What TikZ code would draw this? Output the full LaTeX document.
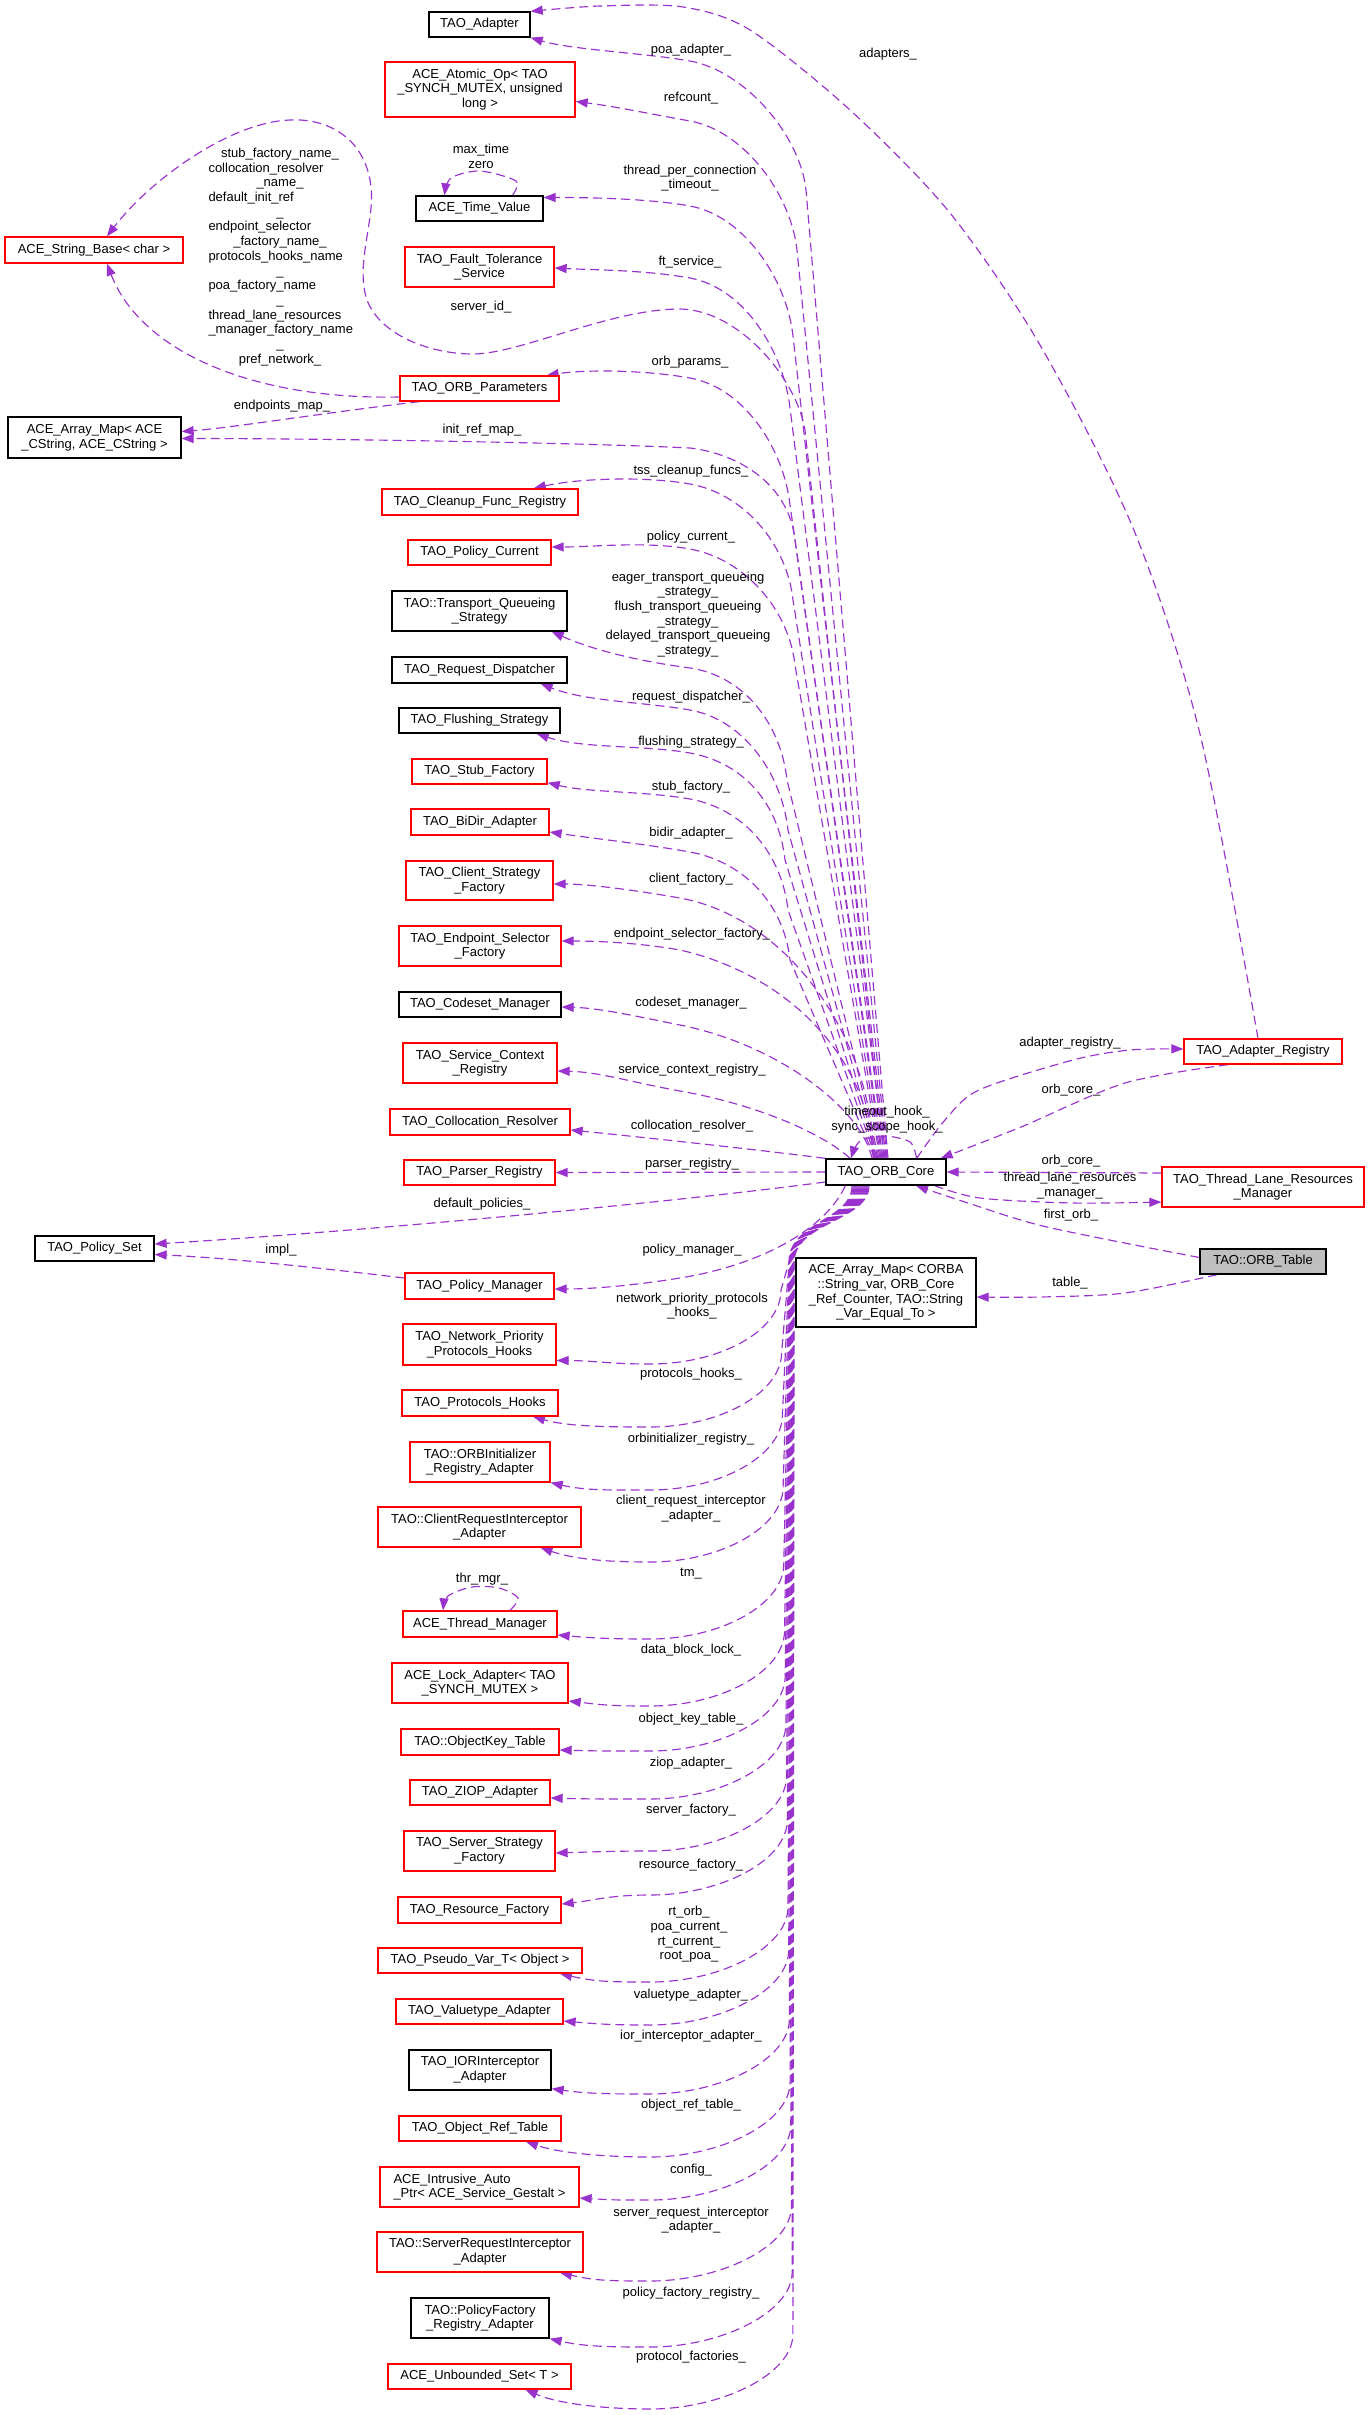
\documentclass[tikz,border=0pt]{standalone}
\usepackage{fontspec}
\setmainfont{Liberation Sans}
\usetikzlibrary{arrows.meta,calc}
\pgfdeclarelayer{bglayer}
\pgfdeclarelayer{edgelayer}
\pgfsetlayers{bglayer,edgelayer,main}
\definecolor{edgec}{HTML}{9A32CD}
\definecolor{boxred}{HTML}{FF0000}
\definecolor{grey75}{HTML}{BFBFBF}
\newcommand{\lft}[1]{\makebox[143pt][l]{#1}}
\begin{document}
\begin{tikzpicture}[x=1pt,y=-1pt,
  every node/.style={font=\fontsize{13}{14.7}\selectfont, inner sep=0pt},
  bbox/.style={draw=black, line width=1.3pt, align=center, fill=white},
  rbox/.style={draw=boxred, line width=1.3pt, align=center, fill=white},
  lbl/.style={align=center},
  conn/.style={draw=edgec, line width=1.15pt, dash pattern=on 9pt off 5pt, -{Triangle[length=12pt,width=9pt]}}
]
\begin{pgfonlayer}{bglayer}
\fill[white] (0,0) rectangle (1368,2415);
\end{pgfonlayer}
\useasboundingbox (0,0) rectangle (1368,2415);

% ---------- boxes ----------
\node[bbox,minimum width=101pt,minimum height=25pt] (adapter) at (479.5,24.5) {TAO\_Adapter};
\node[rbox,minimum width=190pt,minimum height=55pt] (atomic) at (480,89.5) {ACE\_Atomic\_Op< TAO\\\_SYNCH\_MUTEX, unsigned\\long >};
\node[bbox,minimum width=127pt,minimum height=25pt] (timev) at (479.5,208.5) {ACE\_Time\_Value};
\node[rbox,minimum width=149pt,minimum height=40pt] (ft) at (479.5,267) {TAO\_Fault\_Tolerance\\\_Service};
\node[rbox,minimum width=178pt,minimum height=26pt] (strbase) at (94,250) {ACE\_String\_Base< char >};
\node[rbox,minimum width=159pt,minimum height=25pt] (orbparams) at (479.5,388.5) {TAO\_ORB\_Parameters};
\node[bbox,minimum width=173pt,minimum height=41pt] (amap) at (94.5,437.5) {ACE\_Array\_Map< ACE\\\_CString, ACE\_CString >};
\node[rbox,minimum width=196pt,minimum height=26pt] (cleanup) at (480,502) {TAO\_Cleanup\_Func\_Registry};
\node[rbox,minimum width=143pt,minimum height=25pt] (polcur) at (479.5,552.5) {TAO\_Policy\_Current};
\node[bbox,minimum width=175pt,minimum height=40pt] (tqs) at (479.5,611) {TAO::Transport\_Queueing\\\_Strategy};
\node[bbox,minimum width=175pt,minimum height=26pt] (reqd) at (479.5,670) {TAO\_Request\_Dispatcher};
\node[bbox,minimum width=161pt,minimum height=25pt] (flush) at (479.5,720.5) {TAO\_Flushing\_Strategy};
\node[rbox,minimum width=135pt,minimum height=25pt] (stubf) at (479.5,771.5) {TAO\_Stub\_Factory};
\node[rbox,minimum width=138pt,minimum height=26pt] (bidir) at (480,822) {TAO\_BiDir\_Adapter};
\node[rbox,minimum width=147pt,minimum height=39pt] (csf) at (479.5,880.5) {TAO\_Client\_Strategy\\\_Factory};
\node[rbox,minimum width=162pt,minimum height=40pt] (esf) at (480,946) {TAO\_Endpoint\_Selector\\\_Factory};
\node[bbox,minimum width=162pt,minimum height=25pt] (codeset) at (480,1004.5) {TAO\_Codeset\_Manager};
\node[rbox,minimum width=154pt,minimum height=40pt] (scr) at (480,1063) {TAO\_Service\_Context\\\_Registry};
\node[rbox,minimum width=180pt,minimum height=26pt] (collres) at (480,1122) {TAO\_Collocation\_Resolver};
\node[rbox,minimum width=151pt,minimum height=25pt] (parser) at (479.5,1172.5) {TAO\_Parser\_Registry};
\node[bbox,minimum width=119pt,minimum height=25pt] (polset) at (94.5,1248.5) {TAO\_Policy\_Set};
\node[rbox,minimum width=149pt,minimum height=26pt] (polman) at (479.5,1286) {TAO\_Policy\_Manager};
\node[rbox,minimum width=153pt,minimum height=41pt] (nph) at (479.5,1344.5) {TAO\_Network\_Priority\\\_Protocols\_Hooks};
\node[rbox,minimum width=156pt,minimum height=26pt] (ph) at (480,1403) {TAO\_Protocols\_Hooks};
\node[rbox,minimum width=140pt,minimum height=40pt] (orbinit) at (480,1462) {TAO::ORBInitializer\\\_Registry\_Adapter};
\node[rbox,minimum width=203pt,minimum height=40pt] (cria) at (479.5,1527) {TAO::ClientRequestInterceptor\\\_Adapter};
\node[rbox,minimum width=154pt,minimum height=26pt] (thrmgr) at (480,1624) {ACE\_Thread\_Manager};
\node[rbox,minimum width=176pt,minimum height=40pt] (lock) at (480,1683) {ACE\_Lock\_Adapter< TAO\\\_SYNCH\_MUTEX >};
\node[rbox,minimum width=158pt,minimum height=26pt] (okt) at (480,1742) {TAO::ObjectKey\_Table};
\node[rbox,minimum width=140pt,minimum height=25pt] (ziop) at (480,1792.5) {TAO\_ZIOP\_Adapter};
\node[rbox,minimum width=151pt,minimum height=40pt] (ssf) at (479.5,1851) {TAO\_Server\_Strategy\\\_Factory};
\node[rbox,minimum width=163pt,minimum height=26pt] (resf) at (479.5,1910) {TAO\_Resource\_Factory};
\node[rbox,minimum width=204pt,minimum height=25pt] (pseudo) at (480,1960.5) {TAO\_Pseudo\_Var\_T< Object >};
\node[rbox,minimum width=167pt,minimum height=25pt] (vta) at (479.5,2011.5) {TAO\_Valuetype\_Adapter};
\node[bbox,minimum width=142pt,minimum height=40pt] (iora) at (480,2070) {TAO\_IORInterceptor\\\_Adapter};
\node[rbox,minimum width=162pt,minimum height=25pt] (ort) at (480,2128.5) {TAO\_Object\_Ref\_Table};
\node[rbox,minimum width=199pt,minimum height=40pt,align=left] (iap) at (479.5,2187) {ACE\_Intrusive\_Auto\\\_Ptr< ACE\_Service\_Gestalt >};
\node[rbox,minimum width=206pt,minimum height=40pt] (sria) at (480,2252) {TAO::ServerRequestInterceptor\\\_Adapter};
\node[bbox,minimum width=138pt,minimum height=40pt] (pfra) at (480,2318) {TAO::PolicyFactory\\\_Registry\_Adapter};
\node[rbox,minimum width=183pt,minimum height=25pt] (uset) at (479.5,2376.5) {ACE\_Unbounded\_Set< T >};
\node[bbox,minimum width=120pt,minimum height=26pt] (core) at (886,1172) {TAO\_ORB\_Core};
\node[rbox,minimum width=158pt,minimum height=25pt] (areg) at (1263,1051.5) {TAO\_Adapter\_Registry};
\node[rbox,minimum width=202pt,minimum height=40pt] (tlrm) at (1263,1187) {TAO\_Thread\_Lane\_Resources\\\_Manager};
\node[bbox,fill=grey75,minimum width=126pt,minimum height=25pt] (orbtable) at (1263,1261.5) {TAO::ORB\_Table};
\node[bbox,minimum width=180pt,minimum height=69pt] (cmap) at (886,1292.5) {ACE\_Array\_Map< CORBA\\::String\_var, ORB\_Core\\\_Ref\_Counter, TAO::String\\\_Var\_Equal\_To >};

% ---------- labels ----------
\node[lbl] (l_poa) at (691,50) {poa\_adapter\_};
\node[lbl] (l_adapters) at (888,54) {adapters\_};
\node[lbl] (l_refc) at (691,98) {refcount\_};
\node[lbl] (l_tpc) at (690,178) {thread\_per\_connection\\\_timeout\_};
\node[lbl] (l_tv) at (481,156) {max\_time\\zero};
\node[lbl] (l_ft) at (690,262) {ft\_service\_};
\node[lbl] (l_sid) at (481,307) {server\_id\_};
\node[lbl] (l_op) at (690,362) {orb\_params\_};
\node[lbl,text width=143pt] (l_names) at (280,257) {stub\_factory\_name\_\\\lft{collocation\_resolver}\\\_name\_\\\lft{default\_init\_ref}\\\_\\\lft{endpoint\_selector}\\\_factory\_name\_\\\lft{protocols\_hooks\_name}\\\_\\\lft{poa\_factory\_name}\\\_\\\lft{thread\_lane\_resources}\\\lft{\_manager\_factory\_name}\\\_\\pref\_network\_};
\node[lbl] (l_epm) at (282,406) {endpoints\_map\_};
\node[lbl] (l_irm) at (482,430) {init\_ref\_map\_};
\node[lbl] (l_tss) at (691,471) {tss\_cleanup\_funcs\_};
\node[lbl] (l_pc) at (691,537) {policy\_current\_};
\node[lbl] (l_tqs) at (688,614.5) {eager\_transport\_queueing\\\_strategy\_\\flush\_transport\_queueing\\\_strategy\_\\delayed\_transport\_queueing\\\_strategy\_};
\node[lbl] (l_rd) at (691,697) {request\_dispatcher\_};
\node[lbl] (l_fs) at (691,742) {flushing\_strategy\_};
\node[lbl] (l_sf) at (691,787) {stub\_factory\_};
\node[lbl] (l_ba) at (691,833) {bidir\_adapter\_};
\node[lbl] (l_cf) at (691,879) {client\_factory\_};
\node[lbl] (l_esf) at (692,934) {endpoint\_selector\_factory\_};
\node[lbl] (l_cm) at (691,1003) {codeset\_manager\_};
\node[lbl] (l_scr) at (692,1070) {service\_context\_registry\_};
\node[lbl] (l_cr) at (692,1126) {collocation\_resolver\_};
\node[lbl] (l_pr) at (692,1164) {parser\_registry\_};
\node[lbl] (l_hook) at (887,1119.5) {timeout\_hook\_\\sync\_scope\_hook\_};
\node[lbl] (l_ar) at (1070,1043) {adapter\_registry\_};
\node[lbl] (l_oc1) at (1071,1090) {orb\_core\_};
\node[lbl] (l_oc2) at (1071,1161) {orb\_core\_};
\node[lbl] (l_tlrm) at (1070,1185.5) {thread\_lane\_resources\\\_manager\_};
\node[lbl] (l_fo) at (1071,1215) {first\_orb\_};
\node[lbl] (l_tab) at (1070,1283) {table\_};
\node[lbl] (l_dp) at (482,1204) {default\_policies\_};
\node[lbl] (l_impl) at (281,1250) {impl\_};
\node[lbl] (l_pm) at (692,1250) {policy\_manager\_};
\node[lbl] (l_nph) at (692,1306) {network\_priority\_protocols\\\_hooks\_};
\node[lbl] (l_ph) at (691,1374) {protocols\_hooks\_};
\node[lbl] (l_oir) at (691,1439) {orbinitializer\_registry\_};
\node[lbl] (l_cria) at (691,1508.5) {client\_request\_interceptor\\\_adapter\_};
\node[lbl] (l_tm) at (691,1574) {tm\_};
\node[lbl] (l_thr) at (482,1579) {thr\_mgr\_};
\node[lbl] (l_dbl) at (691,1650) {data\_block\_lock\_};
\node[lbl] (l_okt) at (691,1719) {object\_key\_table\_};
\node[lbl] (l_ziop) at (691,1763) {ziop\_adapter\_};
\node[lbl] (l_sfac) at (691,1810) {server\_factory\_};
\node[lbl] (l_rf) at (691,1865) {resource\_factory\_};
\node[lbl] (l_rt) at (689,1934.5) {rt\_orb\_\\poa\_current\_\\rt\_current\_\\root\_poa\_};
\node[lbl] (l_vta) at (691,1995) {valuetype\_adapter\_};
\node[lbl] (l_iora) at (691,2036) {ior\_interceptor\_adapter\_};
\node[lbl] (l_ort) at (691,2105) {object\_ref\_table\_};
\node[lbl] (l_cfg) at (691,2170) {config\_};
\node[lbl] (l_sria) at (691,2220) {server\_request\_interceptor\\\_adapter\_};
\node[lbl] (l_pfr) at (691,2293) {policy\_factory\_registry\_};
\node[lbl] (l_pf) at (691,2357) {protocol\_factories\_};

% ---------- connectors ----------
\begin{pgfonlayer}{edgelayer}
% upper fan from TAO_ORB_Core
\draw[conn] ($(core.north)+(2,0)$) -- (806,190) .. controls +(-6,-55) and +(55,10) .. (690,61) .. controls +(-45,-8) and +(40,12) .. (adapter.south east);
\draw[conn] ($(core.north)+(1,0)$) -- (797,250) .. controls +(-6,-55) and +(55,10) .. (690,121) .. controls +(-45,-8) and +(40,5) .. ($(atomic.east)+(0,12)$);
\draw[conn] ($(core.north)+(0,0)$) -- (793,336) .. controls +(-6,-55) and +(55,10) .. (690,206) .. controls +(-45,-8) and +(40,0) .. ($(timev.east)+(0,-11)$);
\draw[conn] ($(core.north)+(-1,0)$) -- (790,408) .. controls +(-6,-55) and +(55,10) .. (690,278) .. controls +(-45,-8) and +(40,2) .. ($(ft.east)+(0,1)$);
\draw[conn] ($(core.north)+(-2,0)$) -- (805,430) .. controls (797,380) and (740,310) .. (680,309) .. controls (610,309) and (520,354) .. (473,354) .. controls (430,354) and (380,335) .. (367,300) .. controls (355,265) and (375,220) .. (371,187) .. controls (366,140) and (330,118) .. (290,120) .. controls (230,122) and (150,180) .. ($(strbase.north)+(13,0)$);
\draw[conn] ($(core.north)+(-3,0)$) -- (790,505) .. controls +(-6,-55) and +(55,10) .. (690,378) .. controls +(-45,-8) and +(40,-6) .. ($(orbparams.north east)+(-13,0)$);
\draw[conn] ($(core.north)+(-4,0)$) -- (795,540) .. controls +(-6,-55) and +(50,6) .. (690,448) .. controls +(-100,-5) and +(150,0) .. ($(amap.east)+(0,1)$);
\draw[conn] ($(core.north)+(-5,0)$) -- (793,600) .. controls +(-6,-55) and +(55,10) .. (690,484) .. controls +(-45,-8) and +(45,-10) .. ($(cleanup.north east)+(-45,0)$);
\draw[conn] ($(core.north)+(-6,0)$) -- (795,665) .. controls +(-6,-55) and +(55,10) .. (690,549) .. controls +(-45,-8) and +(40,0) .. ($(polcur.east)+(0,-5.5)$);
\draw[conn] ($(core.north)+(-7,0)$) -- (787,780) .. controls +(-6,-55) and +(55,8) .. (690,668) .. controls +(-45,-6) and +(45,20) .. ($(tqs.south east)+(-16,0)$);
\draw[conn] ($(core.north)+(-8,0)$) -- (788,830) .. controls +(-6,-55) and +(55,10) .. (690,710) .. controls +(-45,-8) and +(45,18) .. ($(reqd.south east)+(-27,0)$);
\draw[conn] ($(core.north)+(-9,0)$) -- (785,860) .. controls +(-6,-55) and +(55,10) .. (690,753) .. controls +(-45,-8) and +(45,15) .. ($(flush.south east)+(-24,0)$);
\draw[conn] ($(core.north)+(-10,0)$) -- (788,910) .. controls +(-6,-55) and +(55,10) .. (690,799) .. controls +(-45,-8) and +(40,10) .. ($(stubf.south east)+(0,-2)$);
\draw[conn] ($(core.north)+(-11,0)$) -- (790,960) .. controls +(-6,-55) and +(55,10) .. (690,852) .. controls +(-45,-8) and +(40,6) .. ($(bidir.east)+(0,10)$);
\draw[conn] ($(core.north)+(-12,0)$) .. controls (872,1040) and (790,918) .. (680,898) .. controls (640,891) and (590,884) .. ($(csf.east)+(0,3.5)$);
\draw[conn] ($(core.north)+(-13,0)$) .. controls (870,1060) and (790,975) .. (680,950) .. controls (640,943) and (600,941) .. ($(esf.east)+(0,-5)$);
\draw[conn] ($(core.north)+(-14,0)$) .. controls (862,1110) and (780,1045) .. (680,1025) .. controls (640,1017) and (600,1008) .. ($(codeset.east)+(0,2.5)$);
\draw[conn] ($(core.north)+(-36,0)$) .. controls (825,1135) and (760,1105) .. (680,1091) .. controls (630,1082) and (600,1072) .. ($(scr.east)+(0,8)$);
\draw[conn] (core.north west) .. controls (760,1150) and (650,1138) .. ($(collres.east)+(0,8)$);
\draw[conn] (core.west) -- (parser.east);
\draw[conn] ($(core.west)+(0,10)$) .. controls (650,1205) and (350,1232) .. ($(polset.east)+(0,-4.5)$);
\draw[conn] ($(polman.west)+(0,-8)$) .. controls (320,1268) and (230,1258) .. ($(polset.east)+(0,6)$);
\draw[conn] ($(core.south west)+(20,0)$) .. controls (825,1230) and (760,1265) .. (680,1278) .. controls (630,1286) and (590,1289) .. ($(polman.east)+(0,3)$);
% ORB_Parameters
\draw[conn] ($(orbparams.west)+(0,8.5)$) .. controls (250,400) and (140,350) .. ($(strbase.south)+(13,0)$);
\draw[conn] ($(orbparams.south west)+(20,0)$) .. controls (330,412) and (230,428) .. ($(amap.east)+(0,-6)$);
% self loops
\draw[conn] plot[smooth] coordinates {($(core.north east)+(-30,0)$) (910,1142) (885,1136) (860,1141) ($(core.north)+(-35,0)$)};
\draw[conn] plot[smooth] coordinates {($(timev.north)+(33,0)$) (516,181) (480,171) (451,178) ($(timev.north)+(-35,0)$)};
\draw[conn] plot[smooth] coordinates {($(thrmgr.north)+(30,0)$) (518,1598) (499,1588) (472,1587) (448,1596) ($(thrmgr.north)+(-37,0)$)};
% right side
\draw[conn] plot[smooth] coordinates {($(core.north east)+(-30,0)$) (945,1120) (979,1090) (1073,1060) (1130,1050) ($(areg.west)+(0,-2.5)$)};
\draw[conn] plot[smooth] coordinates {($(areg.south)+(-35,0)$) (1125,1083) (1021,1127) ($(core.north east)+(-6,0)$)};
\draw[conn] plot[smooth] coordinates {($(areg.north)+(-5,0)$) (1200,734) (1133,528) (1040,345) (950,213) (850,110) (750,30) (683,7) (600,6) (adapter.north east)};
\draw[conn] ($(tlrm.west)+(0,-14)$) -- (core.east);
\draw[conn] plot[smooth] coordinates {($(core.south east)+(-12,0)$) (980,1198) (1073,1203) ($(tlrm.west)+(0,15)$)};
\draw[conn] plot[smooth] coordinates {($(orbtable.west)+(0,-4)$) (1047,1227) (968,1203) ($(core.south)+(30,0)$)};
\draw[conn] plot[smooth] coordinates {($(orbtable.south)+(-46,0)$) (1125,1293) (1040,1297) ($(cmap.east)+(0,4.5)$)};
% lower bundle
\draw[conn] ($(core.south)+(-34,0)$) .. controls +(0,35) and +(0,-40) .. (789,1262) -- (781,1290) .. controls +(0,41) and +(70,0) .. (650,1364) .. controls +(-40,0) and +(35,0) .. ($(nph.east)+(0,16)$);
\draw[conn] ($(core.south)+(-33,0)$) .. controls +(0,35) and +(0,-40) .. (789.3,1262) -- (781.7,1352) .. controls +(0,41) and +(70,0) .. (650,1427) .. controls +(-40,0) and +(35,10) .. ($(ph.south)+(53,0)$);
\draw[conn] ($(core.south)+(-32,0)$) .. controls +(0,35) and +(0,-40) .. (789.6,1262) -- (782.4,1415) .. controls +(0,41) and +(70,0) .. (650,1490) .. controls +(-40,0) and +(35,8) .. (orbinit.south east);
\draw[conn] ($(core.south)+(-31,0)$) .. controls +(0,35) and +(0,-40) .. (789.9,1262) -- (783.1,1487) .. controls +(0,41) and +(70,0) .. (650,1562) .. controls +(-40,0) and +(35,12) .. ($(cria.south)+(61,0)$);
\draw[conn] ($(core.south)+(-30,0)$) .. controls +(0,35) and +(0,-40) .. (790.2,1262) -- (783.8,1564) .. controls +(0,41) and +(70,0) .. (650,1639) .. controls +(-40,0) and +(35,3) .. ($(thrmgr.east)+(0,11)$);
\draw[conn] ($(core.south)+(-29,0)$) .. controls +(0,35) and +(0,-40) .. (790.5,1262) -- (784.5,1631) .. controls +(0,41) and +(70,0) .. (650,1706) .. controls +(-40,0) and +(35,4) .. ($(lock.east)+(0,18)$);
\draw[conn] ($(core.south)+(-28,0)$) .. controls +(0,35) and +(0,-40) .. (790.8,1262) -- (785.2,1676) .. controls +(0,41) and +(70,0) .. (650,1751) .. controls +(-40,0) and +(35,1) .. ($(okt.east)+(0,8)$);
\draw[conn] ($(core.south)+(-27,0)$) .. controls +(0,35) and +(0,-40) .. (791.1,1262) -- (785.9,1724) .. controls +(0,41) and +(70,0) .. (650,1799) .. controls +(-40,0) and +(35,1) .. ($(ziop.east)+(0,5.5)$);
\draw[conn] ($(core.south)+(-26,0)$) .. controls +(0,35) and +(0,-40) .. (791.4,1262) -- (786.6,1776) .. controls +(0,41) and +(70,0) .. (650,1851) .. controls +(-40,0) and +(35,-1) .. ($(ssf.east)+(0,2)$);
\draw[conn] ($(core.south)+(-25,0)$) .. controls +(0,35) and +(0,-40) .. (791.7,1262) -- (787.3,1820) .. controls +(0,41) and +(70,0) .. (650,1895) .. controls +(-40,0) and +(35,-4) .. ($(resf.east)+(0,-6)$);
\draw[conn] ($(core.south)+(-24,0)$) .. controls +(0,35) and +(0,-40) .. (792,1262) -- (788,1907) .. controls +(0,41) and +(70,0) .. (650,1982) .. controls +(-40,0) and +(35,8) .. ($(pseudo.south)+(80,0)$);
\draw[conn] ($(core.south)+(-23,0)$) .. controls +(0,35) and +(0,-40) .. (792.3,1262) -- (788.7,1950) .. controls +(0,41) and +(70,0) .. (650,2025) .. controls +(-40,0) and +(35,3) .. ($(vta.east)+(0,9.5)$);
\draw[conn] ($(core.south)+(-22,0)$) .. controls +(0,35) and +(0,-40) .. (792.6,1262) -- (789.4,2019) .. controls +(0,41) and +(70,0) .. (650,2094) .. controls +(-40,0) and +(35,5) .. ($(iora.south east)+(0,-2)$);
\draw[conn] ($(core.south)+(-21,0)$) .. controls +(0,35) and +(0,-40) .. (792.9,1262) -- (790.1,2082) .. controls +(0,41) and +(70,0) .. (650,2157) .. controls +(-40,0) and +(35,12) .. ($(ort.south)+(46,0)$);
\draw[conn] ($(core.south)+(-20,0)$) .. controls +(0,35) and +(0,-40) .. (793.2,1262) -- (790.8,2125) .. controls +(0,41) and +(70,0) .. (650,2200) .. controls +(-40,0) and +(35,2) .. ($(iap.east)+(0,11)$);
\draw[conn] ($(core.south)+(-19,0)$) .. controls +(0,35) and +(0,-40) .. (793.5,1262) -- (791.5,2206) .. controls +(0,41) and +(70,0) .. (650,2281) .. controls +(-40,0) and +(35,8) .. ($(sria.south)+(80,0)$);
\draw[conn] ($(core.south)+(-18,0)$) .. controls +(0,35) and +(0,-40) .. (793.8,1262) -- (792.2,2272) .. controls +(0,41) and +(70,0) .. (650,2347) .. controls +(-40,0) and +(35,8) .. (pfra.south east);
\draw[conn] ($(core.south)+(-17,0)$) .. controls +(0,35) and +(0,-40) .. (794.1,1262) -- (792.9,2334) .. controls +(0,41) and +(70,0) .. (650,2409) .. controls +(-40,0) and +(35,15) .. ($(uset.south)+(46,0)$);
\end{pgfonlayer}
\end{tikzpicture}
\end{document}
